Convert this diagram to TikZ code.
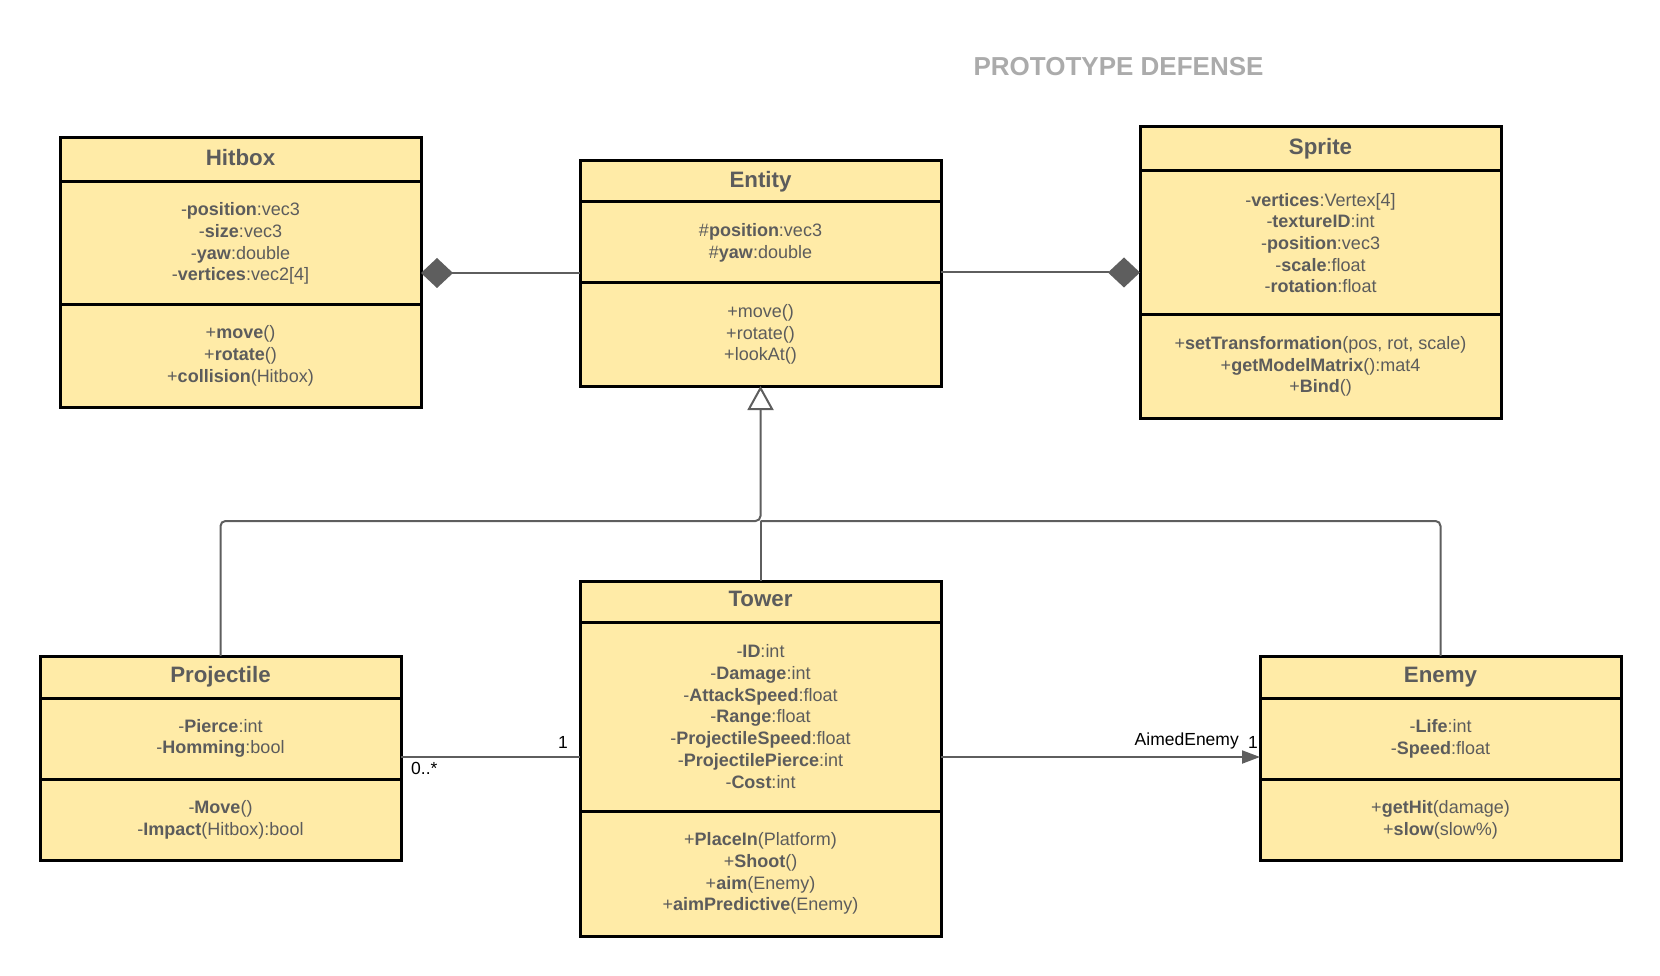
\documentclass[tikz,border=0pt]{standalone}
\usepackage{fontspec}
\setmainfont{Liberation Sans}
\usetikzlibrary{arrows.meta,calc}
\definecolor{clsfill}{HTML}{FFEBA7}
\definecolor{txtgray}{HTML}{5C5C5C}
\definecolor{linegray}{HTML}{5E5E5E}
\definecolor{titlegray}{HTML}{ABABAB}
\tikzset{
  cls/.style={draw=black, line width=3pt, fill=clsfill, anchor=north west, inner sep=0pt, outer sep=0pt,
    text=txtgray, align=center, minimum width=361pt, font=\fontsize{18}{21.7}\selectfont},
  clshead/.style={cls, text depth=4.6pt, font=\fontsize{22.3}{25}\selectfont\bfseries},
  conn/.style={draw=linegray, line width=2pt},
  lbl/.style={text=black, inner sep=0pt, font=\fontsize{17.5}{21}\selectfont},
  compo/.style={conn, {Diamond[length=32pt, width=30pt, fill=linegray]}-},
  compoend/.style={conn, -{Diamond[length=32pt, width=30pt, fill=linegray]}},
  inherit/.style={conn, -{Triangle[open, length=24pt, width=26pt, fill=white]}},
  navig/.style={conn, -{Triangle[length=18pt, width=13pt]}}
}
\begin{document}
\begin{tikzpicture}[x=1pt, y=-1pt]
\useasboundingbox (0,0) rectangle (1660,976);

\node[text=titlegray, font=\fontsize{26}{30}\selectfont\bfseries, inner sep=0pt] (title) at (1118.5,66.5) {PROTOTYPE DEFENSE};

% Hitbox
\node[clshead, minimum height=44pt] (hitboxH) at (60,138) {Hitbox};
\node[cls, minimum height=123pt] (hitboxA) at (60,182) {-\textbf{position}:vec3\\-\textbf{size}:vec3\\-\textbf{yaw}:double\\-\textbf{vertices}:vec2[4]};
\node[cls, minimum height=102pt] (hitboxM) at (60,305) {+\textbf{move}()\\+\textbf{rotate}()\\+\textbf{collision}(Hitbox)};

% Entity
\node[clshead, minimum height=41pt] (entityH) at (580,161) {Entity};
\node[cls, minimum height=81pt] (entityA) at (580,202) {\#\textbf{position}:vec3\\\#\textbf{yaw}:double};
\node[cls, minimum height=103pt] (entityM) at (580,283) {+move()\\+rotate()\\+lookAt()};

% Sprite
\node[clshead, minimum height=44pt] (spriteH) at (1140,127) {Sprite};
\node[cls, minimum height=144pt] (spriteA) at (1140,171) {-\textbf{vertices}:Vertex[4]\\-\textbf{textureID}:int\\-\textbf{position}:vec3\\-\textbf{scale}:float\\-\textbf{rotation}:float};
\node[cls, minimum height=103pt] (spriteM) at (1140,315) {+\textbf{setTransformation}(pos, rot, scale)\\+\textbf{getModelMatrix}():mat4\\+\textbf{Bind}()};

% Projectile
\node[clshead, minimum height=42pt] (projH) at (40,656) {Projectile};
\node[cls, minimum height=81pt] (projA) at (40,698) {-\textbf{Pierce}:int\\-\textbf{Homming}:bool};
\node[cls, minimum height=81pt] (projM) at (40,779) {-\textbf{Move}()\\-\textbf{Impact}(Hitbox):bool};

% Tower
\node[clshead, minimum height=41pt] (towerH) at (580,581) {Tower};
\node[cls, minimum height=189pt] (towerA) at (580,622) {-\textbf{ID}:int\\-\textbf{Damage}:int\\-\textbf{AttackSpeed}:float\\-\textbf{Range}:float\\-\textbf{ProjectileSpeed}:float\\-\textbf{ProjectilePierce}:int\\-\textbf{Cost}:int};
\node[cls, minimum height=125pt] (towerM) at (580,811) {+\textbf{PlaceIn}(Platform)\\+\textbf{Shoot}()\\+\textbf{aim}(Enemy)\\+\textbf{aimPredictive}(Enemy)};

% Enemy
\node[clshead, minimum height=42pt] (enemyH) at (1260,656) {Enemy};
\node[cls, minimum height=81pt] (enemyA) at (1260,698) {-\textbf{Life}:int\\-\textbf{Speed}:float};
\node[cls, minimum height=81pt] (enemyM) at (1260,779) {+\textbf{getHit}(damage)\\+\textbf{slow}(slow\%)};

% compositions
\coordinate (hc) at ([yshift=-29.5pt]hitboxA.east);
\coordinate (sc) at ([yshift=-30pt]entityA.east);
\draw[compo] (hc) -- (hc -| entityA.west);
\draw[compoend] (sc) -- (sc -| spriteA.west);

% inheritance
\coordinate (junc) at ([yshift=-135pt]entityM.south);
\draw[inherit, rounded corners=5pt] (projH.north) |- (junc) -- (entityM.south);
\draw[conn, rounded corners=5pt] (enemyH.north) |- (junc);
\draw[conn] (towerH.north) -- (junc);

% associations
\coordinate (pc) at ([yshift=-18.5pt]projA.east);
\coordinate (tc) at ([yshift=-40.5pt]towerA.east);
\draw[conn] (pc) -- (pc -| towerA.west);
\node[lbl, anchor=north west] (pmult) at ([xshift=10pt, yshift=-5pt]pc) {0..*};
\node[lbl, anchor=south east] (tmult) at ([xshift=-12pt, yshift=8pt]pc -| towerA.west) {1};
\draw[navig] (tc) -- (tc -| enemyA.west);
\node[lbl, anchor=south east] (emult) at ([xshift=-2pt, yshift=8pt]tc -| enemyA.west) {1};
\node[lbl, anchor=south east] (aimed) at ([xshift=-21pt, yshift=8pt]tc -| enemyA.west) {AimedEnemy};
\end{tikzpicture}
\end{document}
